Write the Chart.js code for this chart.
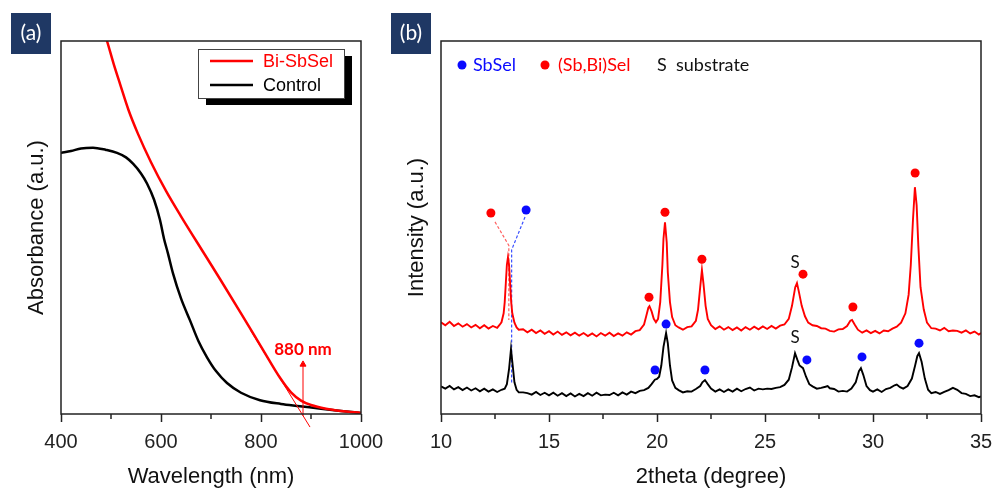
<!DOCTYPE html>
<html>
<head>
<meta charset="utf-8">
<script src="https://cdn.jsdelivr.net/npm/chart.js@4.4.1/dist/chart.umd.min.js"></script>
<style>
  html, body { margin: 0; padding: 0; background: #fff; }
  #wrap { position: relative; width: 992px; height: 490px; }
  .panel { position: absolute; top: 0; }
  #panelA { left: 0; }
  #panelB { left: 380px; }
</style>
</head>
<body>
<div id="wrap">
  <div class="panel" id="panelA"><canvas id="absChart" width="400" height="490"></canvas></div>
  <div class="panel" id="panelB"><canvas id="xrdChart" width="612" height="490"></canvas></div>
</div>
<script>
// ---- (a) absorbance data (wavelength nm, absorbance a.u.)
const biSbSelAbs = [
  [480, 1.05], [492, 1.0], [505, 0.94], [518, 0.885], [535, 0.815], [554, 0.751],
  [580, 0.675], [610, 0.598], [640, 0.53], [684, 0.435], [718, 0.362], [760, 0.27],
  [804, 0.172], [838, 0.097], [860, 0.058], [880, 0.036], [900, 0.024], [930, 0.014],
  [960, 0.008], [1000, 0.003]
];
const controlAbs = [
  [400, 0.70], [420, 0.705], [440, 0.712], [464, 0.714], [490, 0.708], [512, 0.70],
  [530, 0.688], [544, 0.671], [560, 0.645], [572, 0.618], [586, 0.575], [598, 0.52],
  [606, 0.47], [614, 0.43], [624, 0.377], [640, 0.31], [658, 0.251], [675, 0.195],
  [692, 0.152], [710, 0.115], [732, 0.083], [760, 0.057], [798, 0.037], [840, 0.027],
  [878, 0.021], [920, 0.014], [960, 0.008], [1000, 0.003]
];
const onsetTangent = [[780, 0.222], [898, -0.035]];
const onsetArrow = [[884, -0.005], [884, 0.133]];
const onsetLabel = { text: '880 nm', x: 884, y: 0.174 };
const wavelengthMinor = [500, 700, 900];

// ---- (b) XRD data (2theta degree, intensity a.u.)
const xrdBiSbSel = [
  [10.0, .246], [10.2, .238], [10.4, .247], [10.6, .236], [10.8, .243], [11.0, .234],
  [11.2, .241], [11.4, .232], [11.6, .239], [11.8, .230], [12.0, .238], [12.2, .229],
  [12.4, .236], [12.6, .231], [12.7, .238], [12.8, .246], [12.9, .27], [12.95, .30],
  [13.0, .35], [13.05, .40], [13.1, .42], [13.15, .40], [13.2, .35], [13.25, .30],
  [13.3, .27], [13.4, .245], [13.5, .232], [13.6, .226], [13.8, .227], [14.0, .219],
  [14.2, .226], [14.4, .217], [14.6, .224], [14.8, .215], [15.0, .222], [15.2, .213],
  [15.4, .221], [15.6, .212], [15.8, .219], [16.0, .211], [16.2, .218], [16.4, .210],
  [16.6, .217], [16.8, .209], [17.0, .216], [17.2, .208], [17.4, .217], [17.6, .210],
  [17.8, .218], [18.0, .209], [18.2, .216], [18.4, .210], [18.6, .219], [18.8, .213],
  [19.0, .222], [19.2, .225], [19.4, .240], [19.5, .262], [19.6, .285], [19.65, .289],
  [19.75, .275], [19.85, .255], [19.95, .246], [20.05, .255], [20.15, .30], [20.25, .40],
  [20.3, .47], [20.37, .514], [20.45, .46], [20.5, .38], [20.6, .30], [20.7, .26],
  [20.85, .238], [21.0, .232], [21.2, .226], [21.4, .233], [21.6, .235], [21.8, .250],
  [21.9, .28], [22.0, .34], [22.08, .386], [22.15, .35], [22.25, .29], [22.35, .255],
  [22.5, .238], [22.7, .228], [22.9, .235], [23.1, .226], [23.3, .233], [23.5, .225],
  [23.7, .232], [23.9, .224], [24.1, .233], [24.3, .226], [24.5, .234], [24.7, .227],
  [24.9, .235], [25.1, .228], [25.3, .236], [25.5, .229], [25.7, .237], [25.9, .240],
  [26.1, .255], [26.25, .29], [26.4, .34], [26.48, .351], [26.56, .33], [26.7, .29],
  [26.85, .262], [27.0, .245], [27.2, .238], [27.4, .236], [27.6, .230], [27.8, .229],
  [28.0, .223], [28.2, .221], [28.4, .227], [28.6, .228], [28.8, .236], [28.95, .25],
  [29.03, .252], [29.15, .24], [29.3, .226], [29.5, .218], [29.7, .224], [29.9, .217],
  [30.1, .223], [30.3, .216], [30.5, .224], [30.7, .222], [30.9, .229], [31.1, .234],
  [31.3, .245], [31.5, .27], [31.65, .32], [31.75, .40], [31.85, .52], [31.94, .608],
  [32.02, .56], [32.1, .45], [32.2, .34], [32.35, .28], [32.5, .245], [32.7, .230],
  [32.9, .229], [33.1, .224], [33.3, .231], [33.5, .222], [33.7, .224], [33.9, .223],
  [34.1, .218], [34.3, .224], [34.5, .216], [34.7, .221], [34.9, .213], [35.0, .217]
];
const xrdControl = [
  [10.0, .074], [10.2, .068], [10.4, .075], [10.6, .066], [10.8, .072], [11.0, .064],
  [11.2, .071], [11.4, .063], [11.6, .069], [11.8, .061], [12.0, .068], [12.2, .060],
  [12.4, .066], [12.6, .059], [12.8, .065], [12.95, .068], [13.05, .080], [13.15, .120],
  [13.24, .174], [13.32, .13], [13.4, .085], [13.5, .065], [13.6, .058], [13.8, .058],
  [14.0, .056], [14.2, .052], [14.4, .059], [14.6, .051], [14.8, .057], [15.0, .050],
  [15.2, .057], [15.4, .049], [15.6, .056], [15.8, .048], [16.0, .055], [16.2, .047],
  [16.4, .054], [16.6, .048], [16.8, .056], [17.0, .049], [17.2, .057], [17.4, .050],
  [17.6, .052], [17.8, .051], [18.0, .057], [18.2, .050], [18.4, .058], [18.6, .052],
  [18.8, .060], [19.0, .056], [19.2, .062], [19.4, .064], [19.6, .070], [19.75, .080],
  [19.9, .092], [20.0, .094], [20.1, .10], [20.2, .13], [20.3, .18], [20.42, .217],
  [20.5, .19], [20.6, .13], [20.7, .09], [20.85, .07], [21.0, .064], [21.2, .058],
  [21.4, .061], [21.6, .060], [21.8, .067], [22.0, .075], [22.1, .085], [22.22, .091],
  [22.35, .08], [22.5, .068], [22.7, .060], [22.9, .066], [23.1, .059], [23.3, .066],
  [23.5, .060], [23.7, .068], [23.9, .061], [24.1, .067], [24.3, .071], [24.5, .063],
  [24.7, .068], [24.9, .066], [25.1, .068], [25.3, .067], [25.5, .070], [25.7, .072],
  [25.9, .078], [26.1, .092], [26.25, .125], [26.39, .163], [26.5, .145], [26.6, .13],
  [26.76, .123], [26.9, .10], [27.05, .08], [27.2, .074], [27.4, .068], [27.6, .070],
  [27.8, .073], [27.9, .075], [28.0, .069], [28.2, .067], [28.4, .060], [28.6, .062],
  [28.8, .060], [29.0, .068], [29.2, .085], [29.35, .115], [29.44, .123], [29.55, .105],
  [29.7, .075], [29.86, .064], [30.0, .060], [30.2, .066], [30.4, .059], [30.6, .067],
  [30.8, .070], [31.0, .077], [31.1, .079], [31.25, .072], [31.4, .068], [31.6, .075],
  [31.8, .095], [31.95, .13], [32.05, .155], [32.13, .163], [32.25, .14], [32.4, .095],
  [32.55, .065], [32.7, .056], [32.9, .059], [33.1, .054], [33.3, .059], [33.5, .064],
  [33.7, .070], [33.9, .065], [34.1, .056], [34.3, .054], [34.5, .048], [34.7, .050],
  [34.9, .045], [35.0, .047]
];
// phase markers
const mixedPhaseDots = [[12.31, .539], [19.63, .313], [20.37, .541], [22.08, .415], [26.76, .375], [29.07, .287], [31.95, .646]];
const sbSelDots = [[13.94, .547], [19.91, .118], [20.42, .241], [22.22, .118], [26.94, .145], [29.49, .153], [32.13, .19]];
const mixedGuide = [[12.5, .515], [13.14, .452], [13.14, .252]];
const sbSelGuide = [[13.89, .528], [13.27, .44], [13.27, .083]];
const substrateMarks = [[26.39, .405], [26.39, .206]];
const thetaMinor = [12.5, 17.5, 22.5, 27.5, 32.5];

const RED = '#ff0000';
const BLUE = '#0a0aff';
const INK = '#222';
const tickFont = { family: 'Liberation Sans, Arial', size: 20 };
const titleFont = { family: 'Liberation Sans, Arial', size: 22 };

function xAxis(min, max, step, title) {
  return {
    type: 'linear', min: min, max: max,
    afterFit: function(s) { s.height = 76; s.paddingLeft = 0; s.paddingRight = 0; },
    ticks: { stepSize: step, padding: 8, color: INK, font: tickFont, maxRotation: 0, autoSkip: false,
      callback: function(v) { return String(v); } },
    grid: { drawOnChartArea: false, drawTicks: true, tickLength: 8, tickWidth: 1.5, tickColor: INK },
    border: { display: false },
    title: { display: true, text: title, color: '#111', font: titleFont, padding: { top: 0, bottom: 0 } }
  };
}

function yAxis(title) {
  return {
    type: 'linear', min: 0, max: 1,
    afterFit: function(s) { s.width = 61; },
    ticks: { display: false },
    grid: { display: false },
    border: { display: false },
    title: { display: true, text: title, color: '#111', font: titleFont, padding: { top: 24, bottom: 0 } }
  };
}

function drawFrame(chart, minor) {
  const ctx = chart.ctx, a = chart.chartArea, x = chart.scales.x;
  ctx.save();
  ctx.strokeStyle = INK;
  ctx.lineWidth = 1.5;
  ctx.strokeRect(a.left, a.top, a.right - a.left, a.bottom - a.top);
  minor.forEach(function(v) {
    const px = x.getPixelForValue(v);
    ctx.beginPath();
    ctx.moveTo(px, a.bottom);
    ctx.lineTo(px, a.bottom + 5);
    ctx.stroke();
  });
  ctx.restore();
}

function drawTag(ctx, text) {
  ctx.save();
  ctx.fillStyle = '#1f3864';
  ctx.fillRect(11, 13, 40, 41);
  ctx.fillStyle = '#fff';
  ctx.font = '21px Lato';
  ctx.textAlign = 'center';
  ctx.textBaseline = 'middle';
  ctx.fillText(text, 31, 33);
  ctx.restore();
}

const absExtras = {
  id: 'absExtras',
  afterDraw: function(chart) {
    const ctx = chart.ctx, x = chart.scales.x, y = chart.scales.y;
    drawFrame(chart, wavelengthMinor);
    drawTag(ctx, '(a)');
    // onset label
    ctx.save();
    ctx.fillStyle = RED;
    ctx.font = 'bold 17px Lato';
    ctx.textAlign = 'center';
    ctx.textBaseline = 'middle';
    ctx.fillText(onsetLabel.text, x.getPixelForValue(onsetLabel.x), y.getPixelForValue(onsetLabel.y));
    // legend box with drop shadow
    ctx.fillStyle = '#000';
    ctx.fillRect(206, 56, 146, 49);
    ctx.fillStyle = '#fff';
    ctx.fillRect(198, 49, 146, 49);
    ctx.strokeStyle = '#444';
    ctx.lineWidth = 1;
    ctx.strokeRect(198.5, 49.5, 146, 49);
    ctx.font = '18px Liberation Sans, Arial';
    ctx.textAlign = 'left';
    chart.data.datasets.filter(function(d) { return d.inLegend; }).forEach(function(d, i) {
      const ly = 61 + i * 24;
      ctx.strokeStyle = d.borderColor;
      ctx.lineWidth = 2.5;
      ctx.beginPath();
      ctx.moveTo(210, ly);
      ctx.lineTo(253, ly);
      ctx.stroke();
      ctx.fillStyle = d.borderColor;
      ctx.fillText(d.label, 263, ly + 1);
    });
    ctx.restore();
  }
};

const xrdExtras = {
  id: 'xrdExtras',
  afterDraw: function(chart) {
    const ctx = chart.ctx, x = chart.scales.x, y = chart.scales.y;
    drawFrame(chart, thetaMinor);
    drawTag(ctx, '(b)');
    ctx.save();
    ctx.font = '17px Lato';
    ctx.fillStyle = '#111';
    ctx.textAlign = 'center';
    ctx.textBaseline = 'middle';
    substrateMarks.forEach(function(p) {
      ctx.fillText('S', x.getPixelForValue(p[0]), y.getPixelForValue(p[1]));
    });
    // legend row
    const a = chart.chartArea;
    const ly = a.top + 24;
    ctx.font = '18px Lato';
    ctx.textAlign = 'left';
    ctx.fillStyle = BLUE;
    ctx.beginPath(); ctx.arc(a.left + 21, ly, 4.5, 0, Math.PI * 2); ctx.fill();
    ctx.fillText('SbSel', a.left + 32, ly);
    ctx.fillStyle = RED;
    ctx.beginPath(); ctx.arc(a.left + 104, ly, 4.5, 0, Math.PI * 2); ctx.fill();
    ctx.fillText('(Sb,Bi)Sel', a.left + 117, ly);
    ctx.fillStyle = '#111';
    ctx.fillText('S', a.left + 216, ly);
    ctx.fillText('substrate', a.left + 235, ly);
    ctx.restore();
  }
};

new Chart(document.getElementById('absChart'), {
  type: 'line',
  data: {
    datasets: [
      { label: 'Bi-SbSel', inLegend: true, data: biSbSelAbs, borderColor: RED, borderWidth: 2.5,
        pointRadius: 0, cubicInterpolationMode: 'monotone', order: 1 },
      { label: 'Control', inLegend: true, data: controlAbs, borderColor: '#000', borderWidth: 2.5,
        pointRadius: 0, cubicInterpolationMode: 'monotone', order: 2 },
      { label: 'tangent', data: onsetTangent, borderColor: RED, borderWidth: 1, pointRadius: 0, clip: false, order: 0 },
      { label: 'arrow', data: onsetArrow, borderColor: RED, backgroundColor: RED, borderWidth: 1,
        pointRadius: [0, 3.5], pointStyle: 'triangle', clip: false, order: 0 }
    ]
  },
  options: {
    responsive: false,
    animation: false,
    layout: { padding: { top: 41, right: 39, bottom: 0, left: 0 } },
    scales: {
      x: xAxis(400, 1000, 200, 'Wavelength (nm)'),
      y: yAxis('Absorbance (a.u.)')
    },
    plugins: { legend: { display: false }, tooltip: { enabled: false } }
  },
  plugins: [absExtras]
});

new Chart(document.getElementById('xrdChart'), {
  type: 'line',
  data: {
    datasets: [
      { label: 'Bi-SbSel', data: xrdBiSbSel, borderColor: RED, borderWidth: 1.9, pointRadius: 0, tension: 0 },
      { label: 'Control', data: xrdControl, borderColor: '#000', borderWidth: 1.9, pointRadius: 0, tension: 0 },
      { label: 'guide (Sb,Bi)Sel', data: mixedGuide, borderColor: '#ff6060', borderWidth: 1.2,
        borderDash: [3, 2], pointRadius: 0 },
      { label: 'guide SbSel', data: sbSelGuide, borderColor: '#3a50ff', borderWidth: 1.2,
        borderDash: [3, 2], pointRadius: 0 },
      { type: 'scatter', label: '(Sb,Bi)Sel', data: mixedPhaseDots, backgroundColor: RED,
        borderWidth: 0, pointRadius: 4.5 },
      { type: 'scatter', label: 'SbSel', data: sbSelDots, backgroundColor: BLUE,
        borderWidth: 0, pointRadius: 4.5 }
    ]
  },
  options: {
    responsive: false,
    animation: false,
    layout: { padding: { top: 41, right: 11, bottom: 0, left: 0 } },
    scales: {
      x: xAxis(10, 35, 5, '2theta (degree)'),
      y: yAxis('Intensity (a.u.)')
    },
    plugins: { legend: { display: false }, tooltip: { enabled: false } }
  },
  plugins: [xrdExtras]
});
</script>
</body>
</html>
